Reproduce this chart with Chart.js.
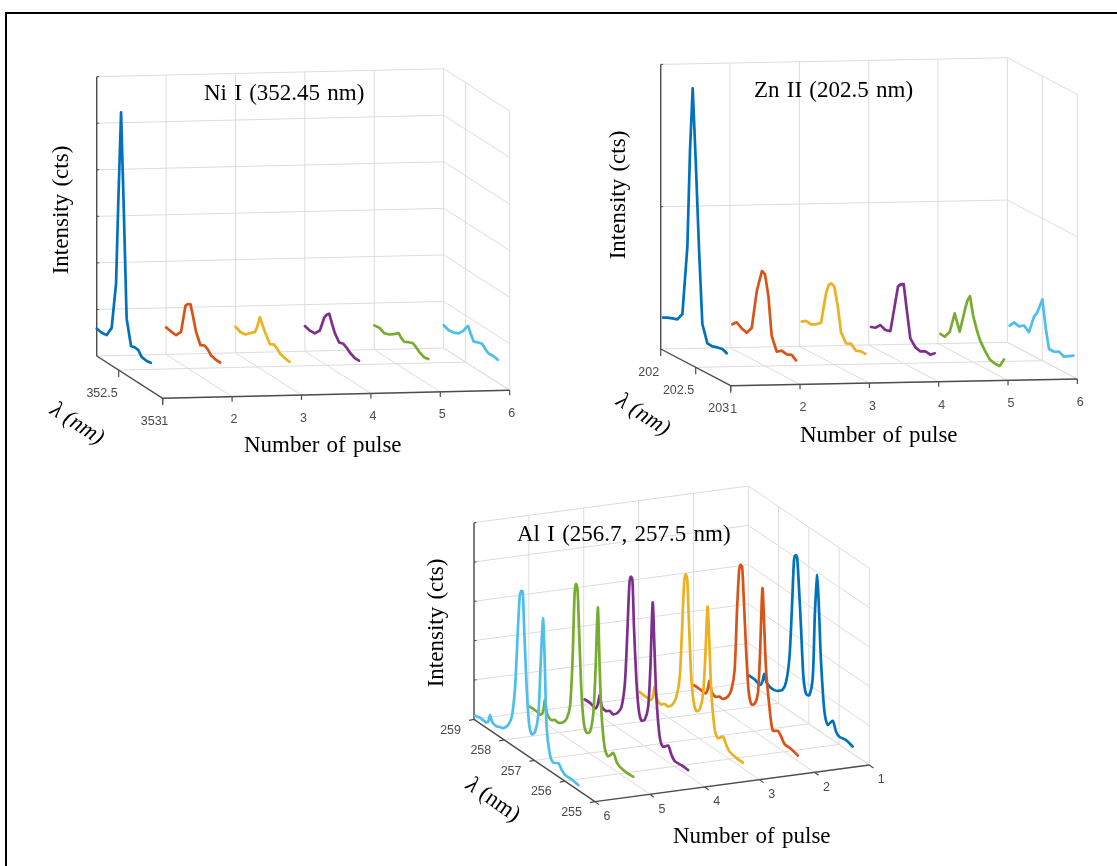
<!DOCTYPE html>
<html>
<head>
<meta charset="utf-8">
<title>Ni I, Zn II, Al I spectra vs number of pulse</title>
<script src="https://cdn.jsdelivr.net/npm/chart.js@4"></script>
<style>
html,body{margin:0;padding:0;background:#fff;overflow:hidden}
#wrap{position:absolute;left:0;top:0;width:1117px;height:866px}
#frame{position:absolute;left:5px;top:12px;right:-5px;bottom:-5px;border-left:2px solid #000;border-top:2px solid #000}
canvas{display:block;filter:blur(0.45px)}
</style>
</head>
<body>
<div id="wrap"><canvas id="c" width="1117" height="866"></canvas><div id="frame"></div></div>
<script>
// ---------- Data ----------
const pulseNumbers = [1, 2, 3, 4, 5, 6];
const seriesColors = ['#0072BD', '#D95319', '#EDB120', '#7E2F8E', '#77AC30', '#4DBEEE'];

// Ni I (352.45 nm)
const niWavelengths = [352.25,352.307,352.364,352.42,352.47,352.496,352.527,352.557,352.59,352.64,352.686,352.723,352.76,352.818,352.864];
const niPulse1 = [.59,.57,.587,.81,1.82,3.64,5.57,3.57,1.22,.686,.71,.70,.60,.58,.60];
const niPulse2 = [.58,.56,.55,.69,1.31,1.38,1.41,1.18,.90,.67,.72,.68,.60,.57,.57];
const niPulse3 = [.56,.51,.53,.63,.71,.85,1.10,.97,.83,.66,.71,.66,.59,.56,.55];
const niPulse4 = [.54,.51,.52,.65,.99,1.08,1.14,.97,.80,.66,.69,.65,.59,.54,.54];
const niPulse5 = [.52,.54,.49,.53,.60,.64,.69,.62,.58,.63,.67,.63,.57,.52,.54];
const niPulse6 = [.49,.45,.47,.52,.63,.72,.81,.68,.55,.59,.62,.55,.50,.51,.49];
const niWavelengthTicks = [352.5, 353];
const niWavelengthTickLabels = ['352.5', '353'];
const niIntensityTicks = [1, 2, 3, 4, 5, 6];

// Zn II (202.5 nm)
const znWavelengths = [202.033,202.095,202.167,202.238,202.31,202.381,202.419,202.457,202.5,202.548,202.595,202.667,202.738,202.81,202.881,202.943];
const znPulse1 = [.229,.245,.258,.27,.326,.817,1.506,1.949,1.457,.837,.329,.212,.209,.22,.227,.213];
const znPulse2 = [.173,.203,.178,.167,.218,.492,.578,.657,.644,.504,.237,.144,.169,.162,.176,.154];
const znPulse3 = [.182,.203,.197,.216,.246,.471,.539,.56,.548,.427,.252,.193,.209,.178,.192,.19];
const znPulse4 = [.135,.146,.183,.167,.178,.40,.52,.544,.557,.373,.20,.155,.146,.164,.159,.185];
const znPulse5 = [.077,.074,.125,.275,.164,.33,.41,.452,.33,.249,.184,.125,.08,.07,.07,.133];
const znPulse6 = [.126,.165,.155,.18,.152,.279,.311,.364,.431,.242,.107,.106,.125,.108,.131,.15];
const znWavelengthTicks = [202, 202.5, 203];
const znWavelengthTickLabels = ['202', '202.5', '203'];
const znIntensityTicks = [1, 2];

// Al I (256.7, 257.5 nm)
const alWavelengths = [258.97,258.80,258.60,258.53,258.47,258.40,258.27,258.14,258.03,257.87,257.75,257.64,257.56,257.49,257.44,257.39,257.34,257.26,257.18,257.09,256.98,256.87,256.80,256.72,256.66,256.60,256.49,256.38,256.21,256.10,255.99,255.77,255.55];
const alPulse1 = [.195,.19,.15,.29,.5,.32,.26,.26,.3,.41,.68,1.37,2.64,3.91,4.06,4.03,3.48,2.33,1.1,.71,.74,1.26,2.92,3.93,2.98,1.83,.62,.3,.49,.27,.2,.23,.18];
const alPulse2 = [.135,.13,.12,.265,.51,.27,.21,.28,.28,.42,.65,1.22,2.79,3.84,4.0,3.96,3.24,1.93,.95,.64,.7,1.03,2.08,3.78,2.83,1.76,.89,.34,.42,.33,.2,.19,.14];
const alPulse3 = [.15,.14,.14,.25,.55,.285,.2,.28,.27,.42,.67,1.23,2.55,3.77,3.95,3.82,2.84,1.44,.84,.65,.75,1.21,2.1,3.5,2.59,1.44,.53,.33,.46,.3,.19,.15,.14];
const alPulse4 = [.15,.155,.115,.265,.52,.26,.22,.29,.26,.39,.6,1.25,2.57,3.87,4.07,4.01,2.85,1.54,.81,.59,.68,1.06,2.03,3.79,2.61,1.46,.5,.3,.42,.24,.14,.15,.14];
const alPulse5 = [.15,.155,.14,.256,.58,.277,.177,.246,.236,.33,.49,.85,1.99,3.76,4.07,3.94,2.95,1.39,.66,.47,.55,1.08,2.14,3.85,2.37,1.22,.39,.24,.42,.25,.18,.15,.16];
const alPulse6 = [.11,.145,.13,.188,.386,.25,.21,.254,.28,.45,.72,1.54,2.86,3.91,4.08,4.09,3.14,1.74,.85,.62,.74,1.27,2.49,3.76,2.65,1.07,.41,.27,.34,.23,.16,.16,.13];
const alWavelengthTicks = [259, 258, 257, 256, 255];
const alWavelengthTickLabels = ['259', '258', '257', '256', '255'];
const alIntensityTicks = [1, 2, 3, 4, 5];

// ---------- View of each 3D box (not data) ----------
const panels = [
  { title:'Ni I (352.45 nm)', wl:niWavelengths, series:[niPulse1,niPulse2,niPulse3,niPulse4,niPulse5,niPulse6],
    wlTicks:niWavelengthTicks, wlLabels:niWavelengthTickLabels, iTicks:niIntensityTicks,
    origin:[96.7,356], pLeft:1, pRight:6, wlBack:352.25, wlFront:353, perPulse:[69.4,-1.6], perWl:[88,56.4], perI:46.55,
    tension:0, pulseTick:[0,5], wlTick:[0,7], pulseLabel:[2,23], wlLabel:[-1,23],
    titlePos:[204,100], xTitlePos:[244,452], yTitlePos:[68,210], wlTitlePos:[77,424,33,false] },
  { title:'Zn II (202.5 nm)', wl:znWavelengths, series:[znPulse1,znPulse2,znPulse3,znPulse4,znPulse5,znPulse6],
    wlTicks:znWavelengthTicks, wlLabels:znWavelengthTickLabels, iTicks:znIntensityTicks,
    origin:[660.7,349], pLeft:1, pRight:6, wlBack:202, wlFront:203, perPulse:[69.33,-1.33], perWl:[70,36.7], perI:142.3,
    tension:0, pulseTick:[0,5], wlTick:[0,7], pulseLabel:[3,23.5], wlLabel:[-1.5,23.3],
    titlePos:[754,97], xTitlePos:[800,442], yTitlePos:[625,195], wlTitlePos:[643,415,33,false] },
  { title:'Al I (256.7, 257.5 nm)', wl:alWavelengths, series:[alPulse1,alPulse2,alPulse3,alPulse4,alPulse5,alPulse6],
    wlTicks:alWavelengthTicks, wlLabels:alWavelengthTickLabels, iTicks:alIntensityTicks,
    origin:[474,719.3], pLeft:6, pRight:1, wlBack:259, wlFront:255, perPulse:[-54.87,7.33], perWl:[-30.25,-20.58], perI:39.33,
    tension:0.25, pulseTick:[4,3], wlTick:[-5,1], pulseLabel:[12,15], wlLabel:[-13,11],
    titlePos:[517,541], xTitlePos:[673,843], yTitlePos:[443,623], wlTitlePos:[493,800,35,true] }
];

const GRID = '#dcdcdc', AXIS = '#4d4d4d', TICKTEXT = '#4a4a4a';
const SERIF = '"Liberation Serif","Times New Roman",serif';
const SANS = '"Liberation Sans",Arial,sans-serif';

function project(v, p, wl, i) {
  return {
    x: v.origin[0] + (p - v.pLeft) * v.perPulse[0] + (wl - v.wlBack) * v.perWl[0],
    y: v.origin[1] + (p - v.pLeft) * v.perPulse[1] + (wl - v.wlBack) * v.perWl[1] - i * v.perI
  };
}
function rule(a, b, color, width, order) {
  return { data:[a,b], borderColor:color, borderWidth:width, pointRadius:0, showLine:true, fill:false, order:order, tension:0 };
}

// Build every dataset from the arrays above
const datasets = [];
panels.forEach((v, pi) => {
  const top = v.iTicks[v.iTicks.length - 1];
  const levels = [0].concat(v.iTicks);
  const wlLines = v.wlTicks.filter(w => w !== v.wlBack);
  // back wall
  pulseNumbers.forEach(p => datasets.push(rule(project(v,p,v.wlBack,0), project(v,p,v.wlBack,top), GRID, 1, 30)));
  levels.forEach(i => datasets.push(rule(project(v,v.pLeft,v.wlBack,i), project(v,v.pRight,v.wlBack,i), GRID, 1, 30)));
  // side wall
  wlLines.forEach(w => datasets.push(rule(project(v,v.pRight,w,0), project(v,v.pRight,w,top), GRID, 1, 30)));
  levels.forEach(i => datasets.push(rule(project(v,v.pRight,v.wlBack,i), project(v,v.pRight,v.wlFront,i), GRID, 1, 30)));
  // floor
  pulseNumbers.forEach(p => datasets.push(rule(project(v,p,v.wlBack,0), project(v,p,v.wlFront,0), GRID, 1, 30)));
  wlLines.forEach(w => datasets.push(rule(project(v,v.pLeft,w,0), project(v,v.pRight,w,0), GRID, 1, 30)));
  // axes
  datasets.push(rule(project(v,v.pLeft,v.wlBack,0), project(v,v.pLeft,v.wlBack,top), AXIS, 1.4, 20));
  datasets.push(rule(project(v,v.pLeft,v.wlBack,0), project(v,v.pLeft,v.wlFront,0), AXIS, 1.4, 20));
  datasets.push(rule(project(v,v.pLeft,v.wlFront,0), project(v,v.pRight,v.wlFront,0), AXIS, 1.4, 20));
  // tick marks
  pulseNumbers.forEach(p => {
    const a = project(v,p,v.wlFront,0);
    datasets.push(rule(a, {x:a.x+v.pulseTick[0], y:a.y+v.pulseTick[1]}, AXIS, 1.2, 20));
  });
  v.wlTicks.forEach(w => {
    const a = project(v,v.pLeft,w,0);
    datasets.push(rule(a, {x:a.x+v.wlTick[0], y:a.y+v.wlTick[1]}, AXIS, 1.2, 20));
  });
  v.iTicks.forEach(i => {
    const a = project(v,v.pLeft,v.wlBack,i);
    datasets.push(rule(a, {x:a.x+2.5, y:a.y-0.1}, AXIS, 1, 20));
  });
  // spectra: later pulses are painted over earlier ones
  v.series.forEach((vals, k) => {
    datasets.push({
      label: v.title + ' pulse ' + pulseNumbers[k],
      data: vals.map((val, j) => project(v, pulseNumbers[k], v.wl[j], val)),
      borderColor: seriesColors[k], borderWidth: 2.7, pointRadius: 0, showLine: true, fill: false,
      tension: v.tension, borderJoinStyle:'round', borderCapStyle:'round', order: 10 - k
    });
  });
});

function text(ctx, str, x, y, font, color, align, base, angle) {
  ctx.save();
  ctx.translate(x, y);
  if (angle) ctx.rotate(angle * Math.PI / 180);
  ctx.font = font; ctx.fillStyle = color;
  ctx.textAlign = align; ctx.textBaseline = base;
  ctx.fillText(str, 0, 0);
  ctx.restore();
}

const labelsPlugin = {
  id: 'boxLabels',
  afterDatasetsDraw(chart) {
    const ctx = chart.ctx;
    const big = '23px ' + SERIF, small = '12.5px ' + SANS;
    panels.forEach(v => {
      ctx.save();
      if ('wordSpacing' in ctx) ctx.wordSpacing = '1.5px';
      text(ctx, v.title, v.titlePos[0], v.titlePos[1], big, '#000', 'left', 'alphabetic');
      text(ctx, 'Number of pulse', v.xTitlePos[0], v.xTitlePos[1], big, '#000', 'left', 'alphabetic');
      text(ctx, 'Intensity (cts)', v.yTitlePos[0], v.yTitlePos[1], big, '#000', 'center', 'alphabetic', -90);
      ctx.restore();
      // λ (nm) title, rotated along the wavelength axis
      const w = v.wlTitlePos;
      ctx.save();
      ctx.translate(w[0], w[1]);
      ctx.rotate(w[2] * Math.PI / 180);
      ctx.fillStyle = '#000'; ctx.textBaseline = 'middle'; ctx.textAlign = 'left';
      ctx.font = 'italic 23px ' + SERIF;
      const lam = 'λ', lw = ctx.measureText(lam).width;
      ctx.font = (w[3] ? '' : 'italic ') + '23px ' + SERIF;
      const rest = ' (nm)', rw = ctx.measureText(rest).width;
      const x0 = -(lw + rw) / 2;
      ctx.fillText(rest, x0 + lw, 0);
      ctx.font = 'italic 23px ' + SERIF;
      ctx.fillText(lam, x0, 0);
      ctx.restore();
      // tick labels
      pulseNumbers.forEach(p => {
        const a = project(v, p, v.wlFront, 0);
        text(ctx, String(p), a.x + v.pulseLabel[0], a.y + v.pulseLabel[1], small, TICKTEXT, 'center', 'middle');
      });
      v.wlTicks.forEach((t, k) => {
        const a = project(v, v.pLeft, t, 0);
        text(ctx, v.wlLabels[k], a.x + v.wlLabel[0], a.y + v.wlLabel[1], small, TICKTEXT, 'right', 'middle');
      });
    });
  }
};

new Chart(document.getElementById('c').getContext('2d'), {
  type: 'scatter',
  data: { datasets },
  plugins: [labelsPlugin],
  options: {
    responsive: false,
    animation: false,
    layout: { padding: 0 },
    clip: false,
    plugins: { legend: { display: false }, tooltip: { enabled: false }, title: { display: false } },
    scales: {
      x: { type:'linear', display:false, min:0, max:1117, bounds:'data', offset:false },
      y: { type:'linear', display:false, min:0, max:866, reverse:true }
    }
  }
});
</script>
</body>
</html>
